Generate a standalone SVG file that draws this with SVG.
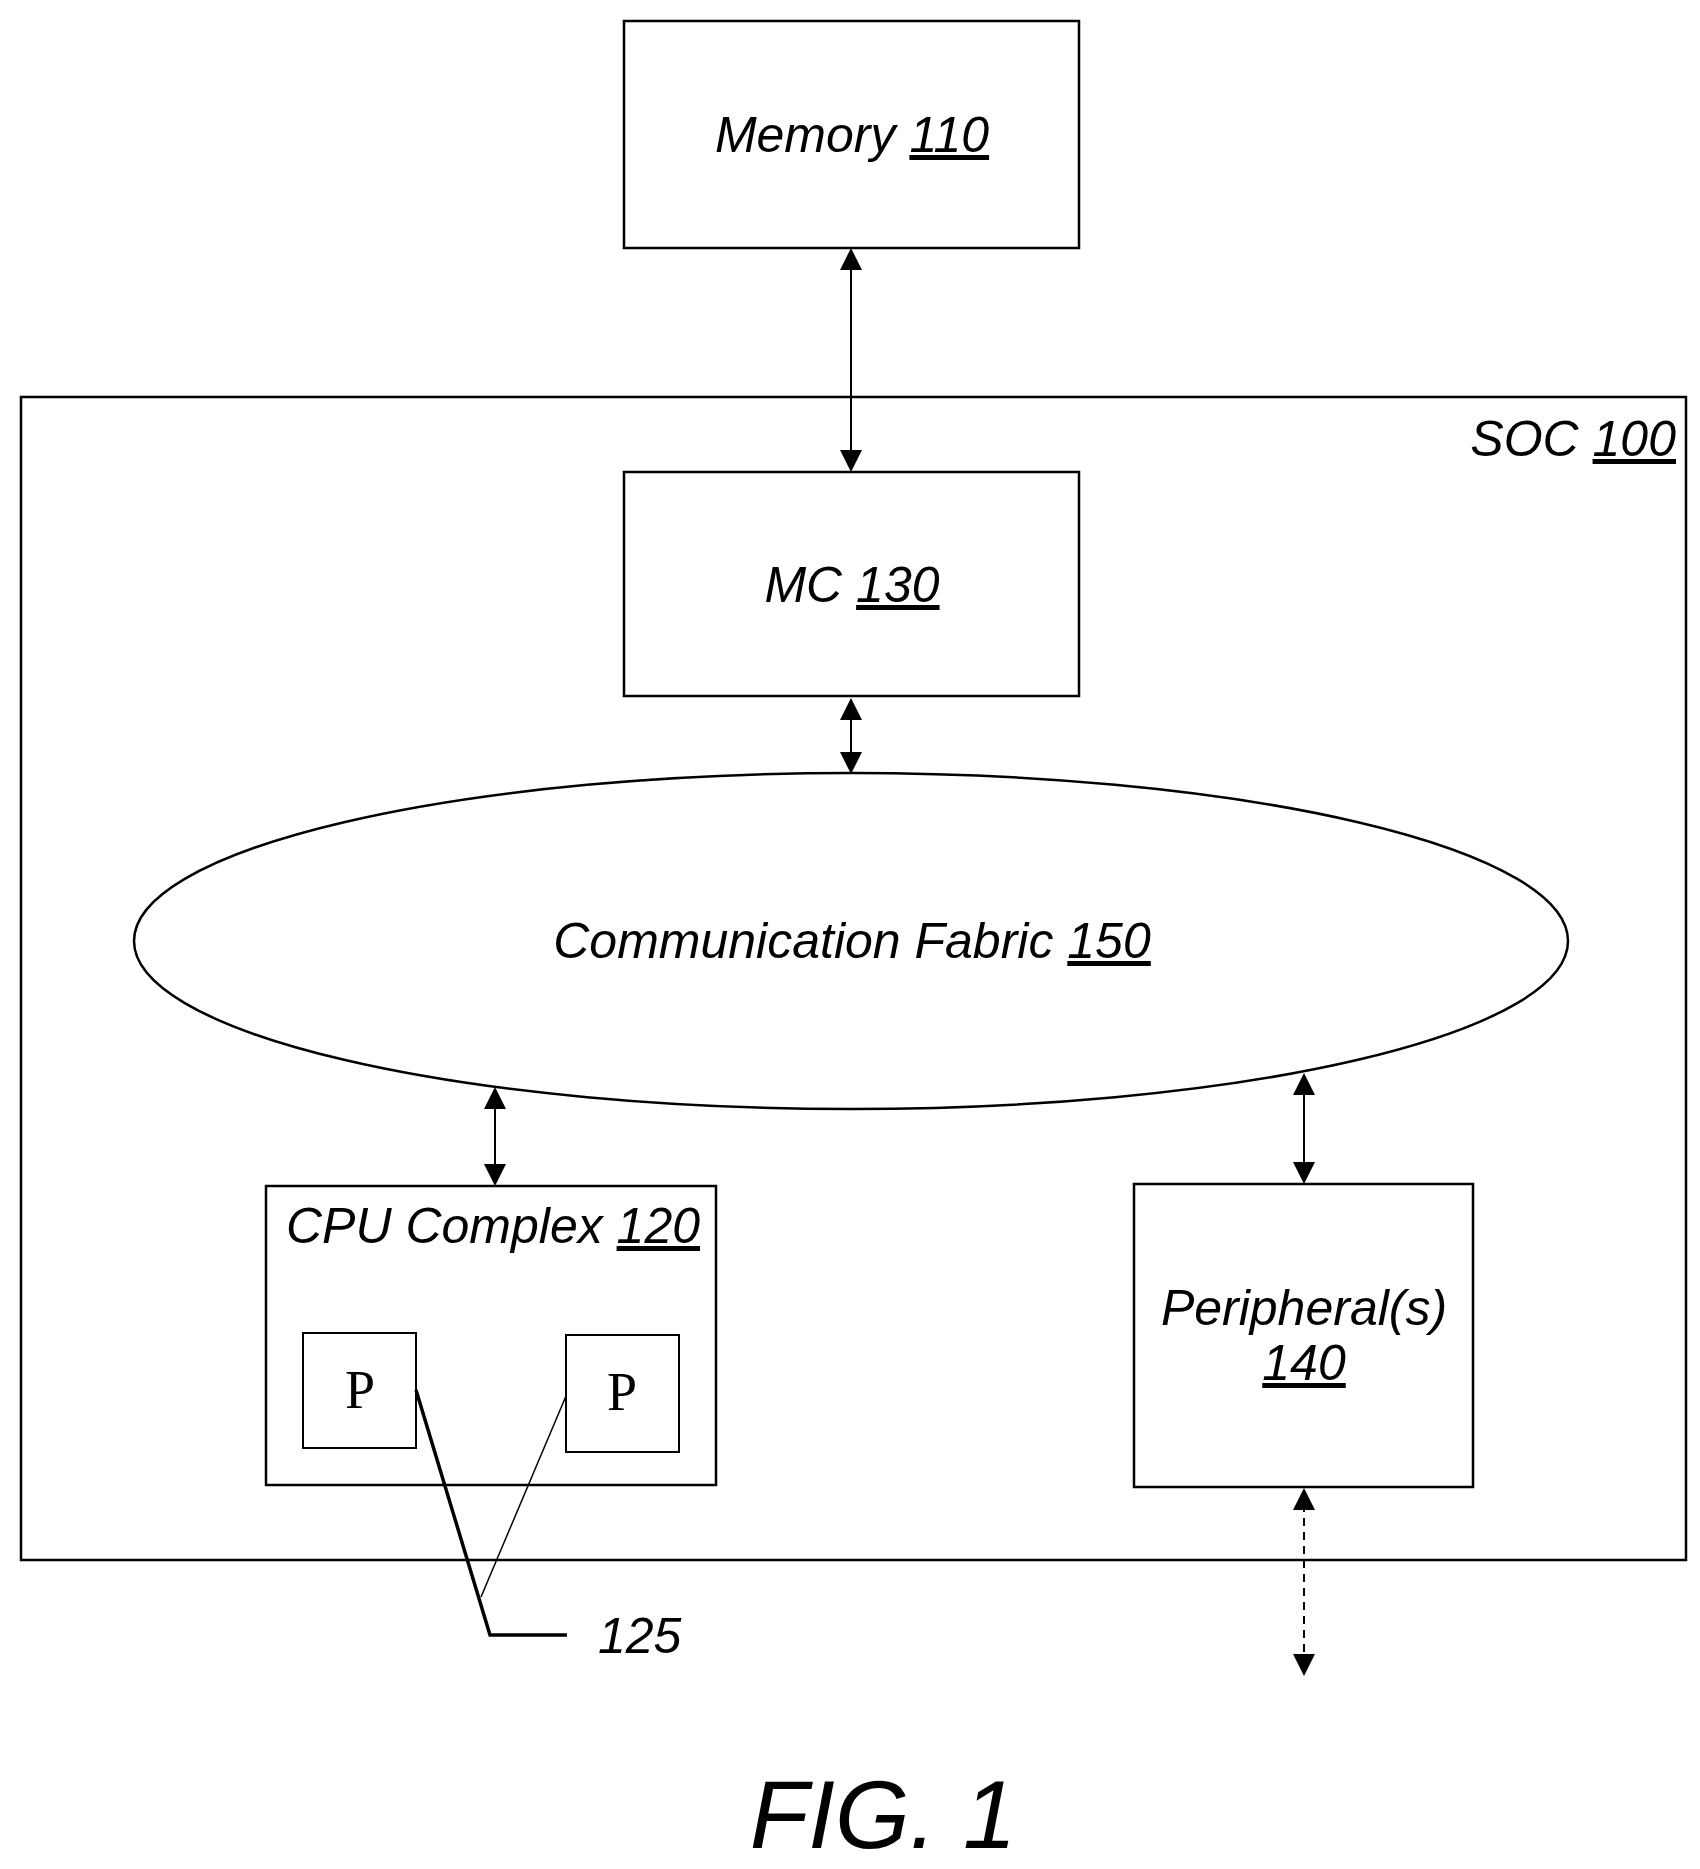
<svg xmlns="http://www.w3.org/2000/svg" width="1700" height="1869" viewBox="0 0 1700 1869">
<style>
.b{fill:none;stroke:#000;stroke-width:2.5}
.t{font-family:"Liberation Sans",Arial,sans-serif;font-style:italic;font-size:50px;fill:#000}
.p{font-family:"Liberation Serif","Times New Roman",serif;font-size:54px;fill:#000}
.c{fill:none;stroke:#000;stroke-width:2}
</style>
<defs>
<marker id="ah" markerWidth="22" markerHeight="22" refX="20" refY="11" orient="auto-start-reverse" markerUnits="userSpaceOnUse">
<path d="M0,0 L22,11 L0,22 Z" fill="#000"/>
</marker>
</defs>
<rect width="1700" height="1869" fill="#fff"/>
<g id="soc"><rect class="b" x="21" y="397" width="1665" height="1163"/>
<text class="t" x="1676" y="456" text-anchor="end">SOC <tspan text-decoration="underline">100</tspan></text></g>
<g id="memory"><rect class="b" x="624" y="21" width="455" height="227"/>
<text class="t" x="852" y="152" text-anchor="middle">Memory <tspan text-decoration="underline">110</tspan></text></g>
<g id="mc"><rect class="b" x="624" y="472" width="455" height="224"/>
<text class="t" x="852" y="602" text-anchor="middle">MC <tspan text-decoration="underline">130</tspan></text></g>
<g id="fabric"><ellipse class="b" cx="851" cy="941" rx="717" ry="168"/>
<text class="t" x="852" y="958" text-anchor="middle">Communication Fabric <tspan text-decoration="underline">150</tspan></text></g>
<g id="cpu"><rect class="b" x="266" y="1186" width="450" height="299"/>
<text class="t" x="493" y="1243" text-anchor="middle">CPU Complex <tspan text-decoration="underline">120</tspan></text>
<rect class="c" x="303" y="1333" width="113" height="115"/>
<text class="p" x="360" y="1408" text-anchor="middle">P</text>
<rect class="c" x="566" y="1335" width="113" height="117"/>
<text class="p" x="622" y="1410" text-anchor="middle">P</text></g>
<g id="peripheral"><rect class="b" x="1134" y="1184" width="339" height="303"/>
<text class="t" x="1304" y="1325" text-anchor="middle">Peripheral(s)</text>
<text class="t" x="1304" y="1380" text-anchor="middle" text-decoration="underline">140</text></g>
<g id="label125"><text class="t" x="598" y="1653">125</text></g>
<g id="fig"><text class="t" x="883" y="1848" text-anchor="middle" style="font-size:96px">FIG. 1</text></g>
<g id="connectors">
<line class="c" x1="851" y1="250" x2="851" y2="470" marker-start="url(#ah)" marker-end="url(#ah)"/>
<line class="c" x1="851" y1="700" x2="851" y2="772" marker-start="url(#ah)" marker-end="url(#ah)"/>
<line class="c" x1="495" y1="1089" x2="495" y2="1184" marker-start="url(#ah)" marker-end="url(#ah)"/>
<line class="c" x1="1304" y1="1075" x2="1304" y2="1182" marker-start="url(#ah)" marker-end="url(#ah)"/>
<line class="c" x1="1304" y1="1490" x2="1304" y2="1674" stroke-dasharray="8,6" marker-start="url(#ah)" marker-end="url(#ah)"/>
<polyline points="416,1390 490,1635 567,1635" fill="none" stroke="#000" stroke-width="3.5"/>
<line x1="566" y1="1396" x2="481" y2="1597" stroke="#000" stroke-width="1.5"/>
</g>
</svg>
